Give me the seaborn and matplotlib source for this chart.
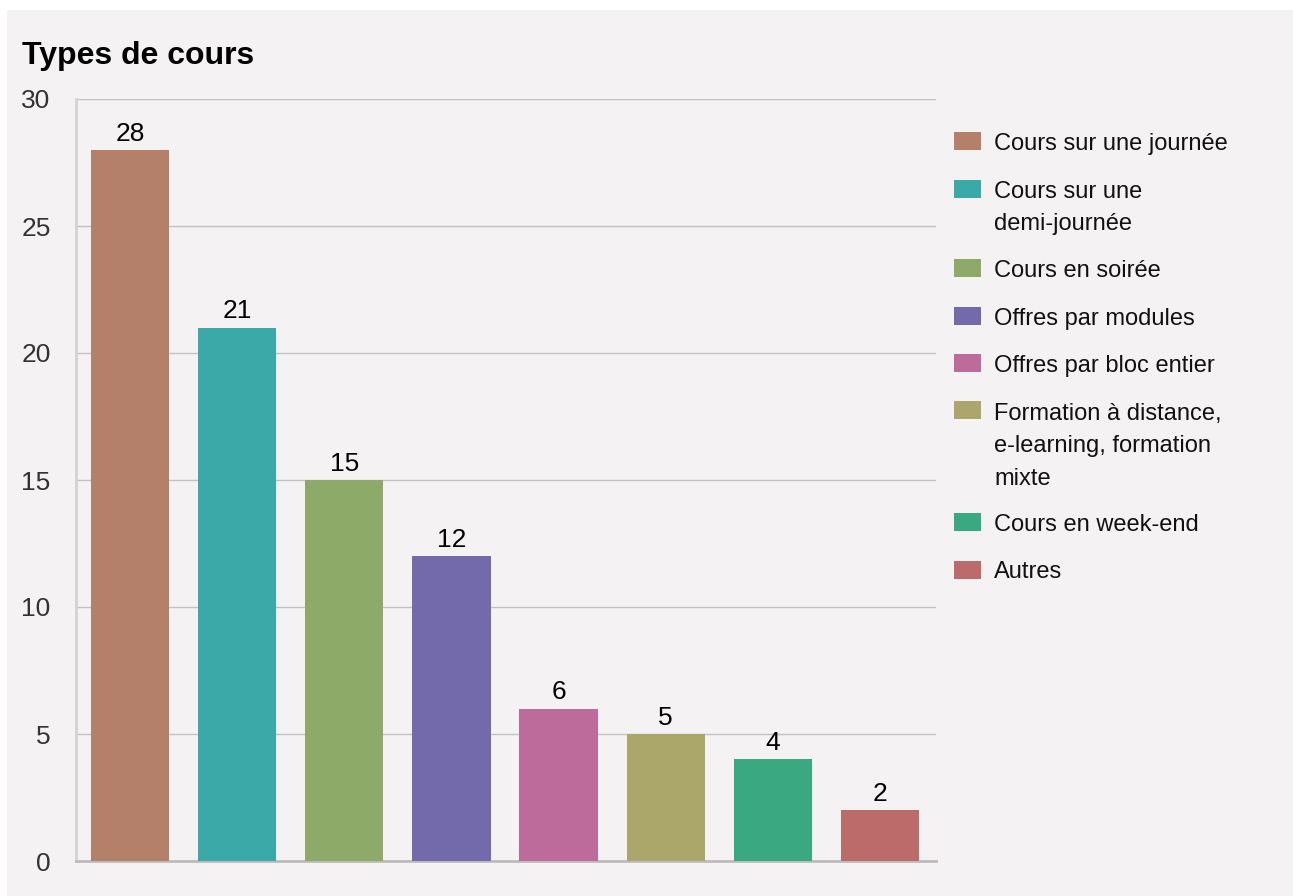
import pandas as pd
import seaborn as sns
import matplotlib.pyplot as plt
from matplotlib.patches import Rectangle

categories = ['Cours sur une journée', 'Cours sur une\ndemi-journée', 'Cours en soirée',
              'Offres par modules', 'Offres par bloc entier',
              'Formation à distance,\ne-learning, formation\nmixte',
              'Cours en week-end', 'Autres']
values = [28, 21, 15, 12, 6, 5, 4, 2]
colors = ['#b4806a', '#3ba9a7', '#8eaa68', '#726aab', '#bd6b9b', '#aba76b', '#3aa982', '#bc6a6a']
yticks = [0, 5, 10, 15, 20, 25, 30]

df = pd.DataFrame({'Type': categories, 'Nombre': values})

panel = '#f4f2f3'
sns.set_theme(style='white')
plt.rcParams['font.family'] = ['Liberation Sans', 'DejaVu Sans']

W, H = 1293, 896
fig = plt.figure(figsize=(W / 100, H / 100), dpi=100, facecolor='white')
fig.patches.append(Rectangle((7 / W, 0), 1 - 7 / W, 1 - 10 / H, transform=fig.transFigure,
                             facecolor=panel, edgecolor='none', zorder=-5))

ax = fig.add_axes([76 / W, 1 - 861 / H, (936 - 76) / W, (861 - 99) / H])
ax.set_facecolor(panel)

sns.barplot(data=df, x='Type', y='Nombre', hue='Type', palette=colors, width=0.73,
            legend=False, ax=ax, saturation=1, zorder=3, edgecolor='none', linewidth=0)

ax.set_xlim(-0.505, 7.523)
ax.set_ylim(0, 30)
ax.set_yticks(yticks)
ax.set_xticks([])
ax.set_xlabel('')
ax.set_ylabel('')
ax.grid(axis='y', color='#c2c0c1', linewidth=1.0, zorder=0)
ax.tick_params(axis='y', length=7.2, width=1.0, color='#c2c0c1', pad=11, labelsize=19,
               labelcolor='#333333')
for side in ['top', 'right']:
    ax.spines[side].set_visible(False)
ax.spines['left'].set_color('#d4d2d3')
ax.spines['left'].set_linewidth(2)
ax.spines['bottom'].set_color('#bdbbbc')
ax.spines['bottom'].set_linewidth(2)

for c in ax.containers:
    ax.bar_label(c, padding=3, fontsize=19, color='black')

fig.text(22 / W, 1 - 64 / H, 'Types de cours', fontsize=23, fontweight='bold',
         color='black', ha='left', va='baseline')

# legend drawn by hand so the swatch sits on the first line of wrapped labels
y = 141
line_h = 32
for lab, col in zip(categories, colors):
    fig.patches.append(Rectangle((954 / W, 1 - (y + 9) / H), 27 / W, 18 / H,
                                 transform=fig.transFigure, facecolor=col,
                                 edgecolor='none', zorder=2))
    fig.text(994 / W, 1 - (y - 8) / H, lab, fontsize=17, color='#111111',
             ha='left', va='top', multialignment='left', linespacing=1.63)
    y += lab.count('\n') * line_h + 47.5

fig.savefig('out.png', dpi=100, facecolor='white')
